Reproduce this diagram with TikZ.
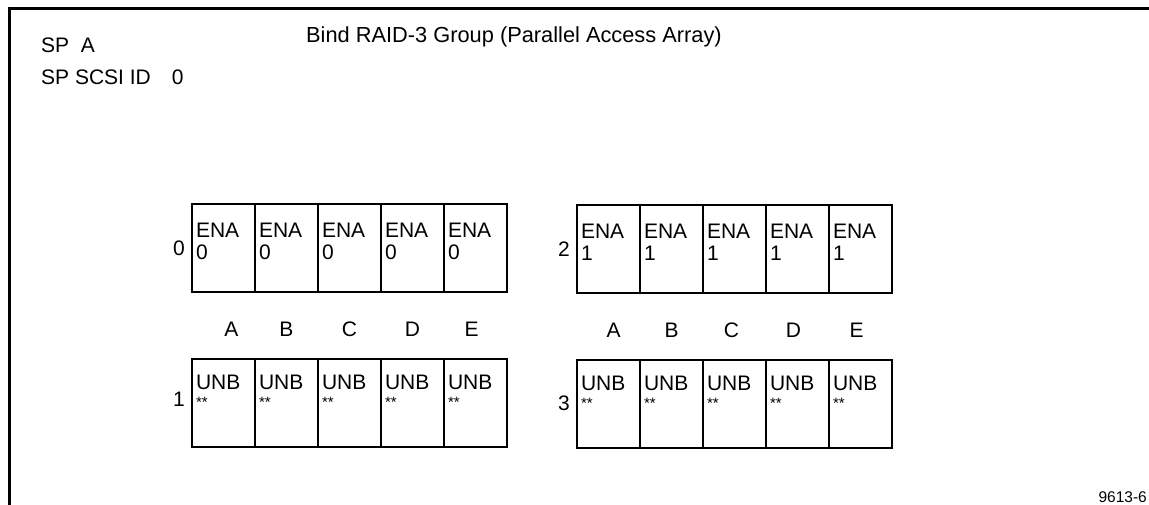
\documentclass[tikz,border=0pt]{standalone}
\usepackage{fontspec}
\setmainfont{Liberation Sans}
\usetikzlibrary{positioning}

\tikzset{
  ena/.style={shape=rectangle, draw=black, line width=1.3pt, outer sep=0pt, inner sep=0pt,
    minimum width=63pt, minimum height=88pt, text width=55pt, align=left,
    text height=15pt, text depth=35pt, font=\fontsize{21}{22}\selectfont},
  unb/.style={ena, text depth=43pt},
  lbl/.style={inner sep=0pt, font=\fontsize{21}{22}\selectfont},
}
\newcommand{\stars}{UNB\\[-4pt]{\fontsize{15}{15}\selectfont **}}

\begin{document}
\begin{tikzpicture}[x=1pt,y=-1pt]
  \useasboundingbox (0,0) rectangle (1149,505);
  \draw[line width=3pt] (9.5,505) -- (9.5,9) -- (1149,9);

  \node[lbl, anchor=base west, font=\fontsize{21.8}{22}\selectfont] (title) at (306,43) {Bind RAID-3 Group (Parallel Access Array)};
  \node[lbl, anchor=base west] (spname) at (41,53) {SP\ \ A};
  \node[lbl, anchor=base west] (spid) at (41,85) {SP SCSI ID\quad 0};
  \node[lbl, anchor=base east, font=\fontsize{15.5}{16}\selectfont] (fignum) at (1147,502) {9613-6};

  % left array, bus 0 and bus 1
  \node[ena, anchor=north west] (a0) at (192,204) {ENA\\0};
  \node[ena] (a1) [right=0pt of a0] {ENA\\0};
  \node[ena] (a2) [right=0pt of a1] {ENA\\0};
  \node[ena] (a3) [right=0pt of a2] {ENA\\0};
  \node[ena] (a4) [right=0pt of a3] {ENA\\0};

  \node[unb, anchor=north west] (b0) at (192,359) {\stars};
  \node[unb] (b1) [right=0pt of b0] {\stars};
  \node[unb] (b2) [right=0pt of b1] {\stars};
  \node[unb] (b3) [right=0pt of b2] {\stars};
  \node[unb] (b4) [right=0pt of b3] {\stars};

  % right array, bus 2 and bus 3
  \node[ena, anchor=north west] (c0) at (577,205) {ENA\\1};
  \node[ena] (c1) [right=0pt of c0] {ENA\\1};
  \node[ena] (c2) [right=0pt of c1] {ENA\\1};
  \node[ena] (c3) [right=0pt of c2] {ENA\\1};
  \node[ena] (c4) [right=0pt of c3] {ENA\\1};

  \node[unb, anchor=north west] (d0) at (577,360) {\stars};
  \node[unb] (d1) [right=0pt of d0] {\stars};
  \node[unb] (d2) [right=0pt of d1] {\stars};
  \node[unb] (d3) [right=0pt of d2] {\stars};
  \node[unb] (d4) [right=0pt of d3] {\stars};

  % bus numbers
  \node[lbl] (n0) [left=7pt of a0] {0};
  \node[lbl] (n1) [left=7pt of b0, yshift=4pt] {1};
  \node[lbl] (n2) [left=7pt of c0] {2};
  \node[lbl] (n3) [left=7pt of d0, yshift=1pt] {3};

  % slot letters
  \node[lbl] (la) [below=30pt of a0, xshift=8pt] {A};
  \node[lbl] (lb) [below=30pt of a1] {B};
  \node[lbl] (lc) [below=30pt of a2] {C};
  \node[lbl] (ld) [below=30pt of a3] {D};
  \node[lbl] (le) [below=30pt of a4, xshift=-4pt] {E};

  \node[lbl] (ra) [below=30pt of c0, xshift=5pt] {A};
  \node[lbl] (rb) [below=30pt of c1] {B};
  \node[lbl] (rc) [below=30pt of c2, xshift=-3pt] {C};
  \node[lbl] (rd) [below=30pt of c3, xshift=-4pt] {D};
  \node[lbl] (re) [below=30pt of c4, xshift=-4pt] {E};
\end{tikzpicture}
\end{document}
